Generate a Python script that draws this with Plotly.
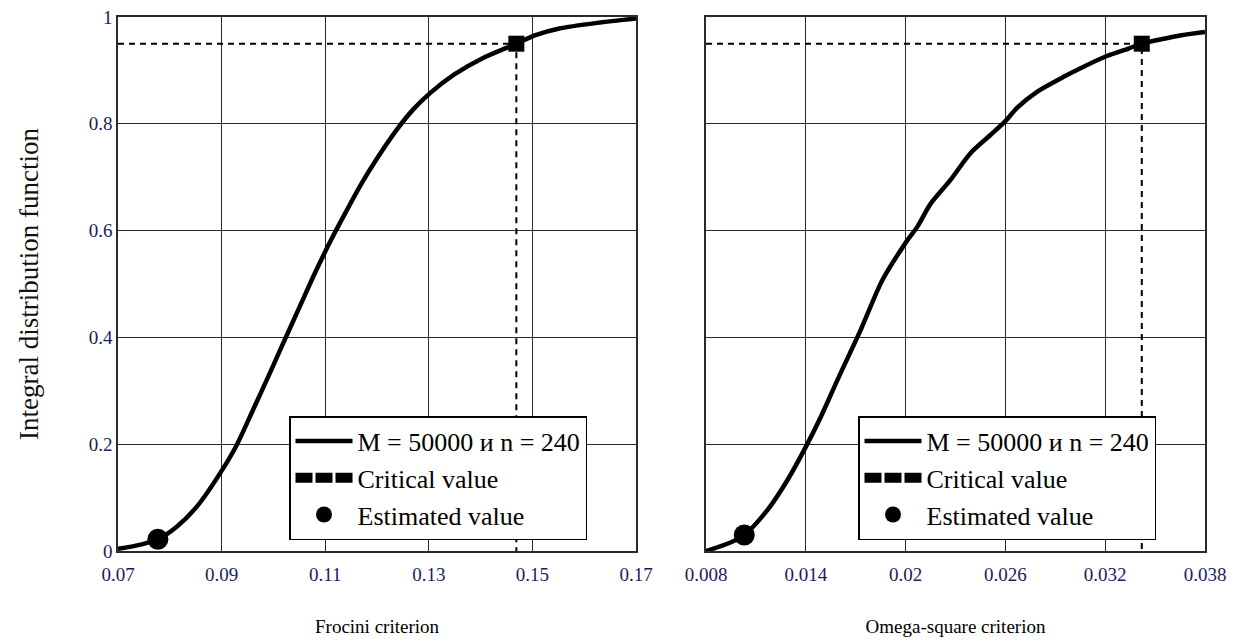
import plotly.graph_objects as go
from plotly.subplots import make_subplots

# ---------------- data ----------------
fro_x = [0.0700, 0.0748, 0.0777, 0.0814, 0.0853, 0.0900, 0.0930, 0.0961, 0.0994, 0.1017,
         0.1051, 0.1080, 0.1110, 0.1140, 0.1170, 0.1200, 0.1239, 0.1270, 0.1303, 0.1350,
         0.1402, 0.1469, 0.1506, 0.1550, 0.1625, 0.1700]
fro_y = [0.004, 0.013, 0.022, 0.046, 0.084, 0.150, 0.200, 0.265, 0.335, 0.385,
         0.458, 0.520, 0.580, 0.635, 0.688, 0.735, 0.790, 0.827, 0.858, 0.893,
         0.922, 0.950, 0.966, 0.978, 0.989, 0.997]

omg_x = [0.0080, 0.0094, 0.0103, 0.0117, 0.0129, 0.0140, 0.0149, 0.0159, 0.0173, 0.0186,
         0.0200, 0.0207, 0.0215, 0.0227, 0.0239, 0.0251, 0.0260, 0.0267, 0.0279, 0.0295,
         0.0307, 0.0321, 0.0334, 0.0342, 0.0353, 0.0366, 0.0380]
omg_y = [0.000, 0.015, 0.030, 0.077, 0.133, 0.195, 0.251, 0.320, 0.414, 0.507,
         0.577, 0.607, 0.650, 0.695, 0.745, 0.779, 0.805, 0.830, 0.860, 0.888,
         0.907, 0.927, 0.941, 0.950, 0.958, 0.966, 0.972]

fro_crit_x, fro_crit_y = 0.1469, 0.95
fro_est_x, fro_est_y = 0.0777, 0.022
omg_crit_x, omg_crit_y = 0.0342, 0.95
omg_est_x, omg_est_y = 0.0103, 0.030

fro_range = [0.07, 0.17]
omg_range = [0.008, 0.038]
fro_ticks = [0.07, 0.09, 0.11, 0.13, 0.15, 0.17]
fro_ticktext = ["0.07", "0.09", "0.11", "0.13", "0.15", "0.17"]
omg_ticks = [0.008, 0.014, 0.02, 0.026, 0.032, 0.038]
omg_ticktext = ["0.008", "0.014", "0.02", "0.026", "0.032", "0.038"]
y_ticks = [0, 0.2, 0.4, 0.6, 0.8, 1]
y_ticktext = ["0", "0.2", "0.4", "0.6", "0.8", "1"]

names = ["M = 50000 и n = 240", "Critical value", "Estimated value"]
x_titles = ["Frocini criterion", "Omega-square criterion"]
y_title = "Integral distribution function"

# ---------------- figure ----------------
W, H = 1239, 642
ml, mr, mt, mb = 118, 34, 17, 91
pw, ph = W - ml - mr, H - mt - mb
dom1 = [0, (636 - ml) / pw]
dom2 = [(706 - ml) / pw, 1]

FONT = "Liberation Serif"
TICKCOL = "#1b1b5e"
GRID = "#2a2a2a"

fig = make_subplots(rows=1, cols=2)

panels = [
    (1, "legend", fro_x, fro_y, fro_range, fro_crit_x, fro_crit_y, fro_est_x, fro_est_y),
    (2, "legend2", omg_x, omg_y, omg_range, omg_crit_x, omg_crit_y, omg_est_x, omg_est_y),
]
for col, leg, xs, ys, xr, cx, cy, ex, ey in panels:
    fig.add_trace(go.Scatter(x=xs, y=ys, mode="lines", name=names[0], legend=leg,
                             line=dict(color="black", width=4.5, shape="spline", smoothing=0.8),
                             hoverinfo="skip"),
                  row=1, col=col)
    fig.add_trace(go.Scatter(x=[xr[0], cx, cx], y=[cy, cy, 0], mode="lines", showlegend=False,
                             line=dict(color="black", width=2, dash="6px,5px"), hoverinfo="skip"),
                  row=1, col=col)
    fig.add_trace(go.Scatter(x=[None], y=[None], mode="lines", name=names[1], legend=leg,
                             line=dict(color="black", width=10, dash="17px,3px")),
                  row=1, col=col)
    fig.add_trace(go.Scatter(x=[cx], y=[cy], mode="markers", showlegend=False,
                             marker=dict(symbol="square", size=16, color="black")),
                  row=1, col=col)
    fig.add_trace(go.Scatter(x=[ex], y=[ey], mode="markers", name=names[2], legend=leg,
                             marker=dict(symbol="circle", size=21, color="black")),
                  row=1, col=col)

axis_common = dict(showgrid=True, gridcolor=GRID, gridwidth=1.3, zeroline=False,
                   showline=True, linecolor=GRID, linewidth=1.5, mirror=True, ticks="",
                   automargin=False,
                   tickfont=dict(family=FONT, size=19, color=TICKCOL))

fig.update_xaxes(**axis_common)
fig.update_yaxes(**axis_common)
fig.update_xaxes(row=1, col=1, domain=dom1, range=fro_range, tickvals=fro_ticks,
                 ticktext=fro_ticktext, ticklabelstandoff=5,
                 title=dict(text=x_titles[0], font=dict(family=FONT, size=19, color="black"),
                            standoff=36))
fig.update_xaxes(row=1, col=2, domain=dom2, range=omg_range, tickvals=omg_ticks,
                 ticktext=omg_ticktext, ticklabelstandoff=5,
                 title=dict(text=x_titles[1], font=dict(family=FONT, size=19, color="black"),
                            standoff=36))
fig.update_yaxes(row=1, col=1, range=[0, 1], tickvals=y_ticks, ticktext=y_ticktext,
                 title=dict(text=y_title, font=dict(family=FONT, size=27, color="#111111"),
                            standoff=42))
fig.update_yaxes(row=1, col=2, range=[0, 1], tickvals=y_ticks, showticklabels=False)

leg_common = dict(bgcolor="white", bordercolor="black", borderwidth=1.5,
                  font=dict(family=FONT, size=26, color="black"),
                  itemwidth=57, xanchor="left", yanchor="top", traceorder="normal",
                  itemclick=False, itemdoubleclick=False)
ly = (H - mb - 416) / ph
fig.update_layout(
    width=W, height=H,
    margin=dict(l=ml, r=mr, t=mt, b=mb, autoexpand=False),
    plot_bgcolor="white", paper_bgcolor="white",
    font=dict(family=FONT, color="black"),
    legend=dict(x=(289 - ml) / pw, y=ly, **leg_common),
    legend2=dict(x=(858 - ml) / pw, y=ly, **leg_common),
)

fig.write_html("out.html", config={"displayModeBar": False},
               post_script="document.body.style.margin='0';")
